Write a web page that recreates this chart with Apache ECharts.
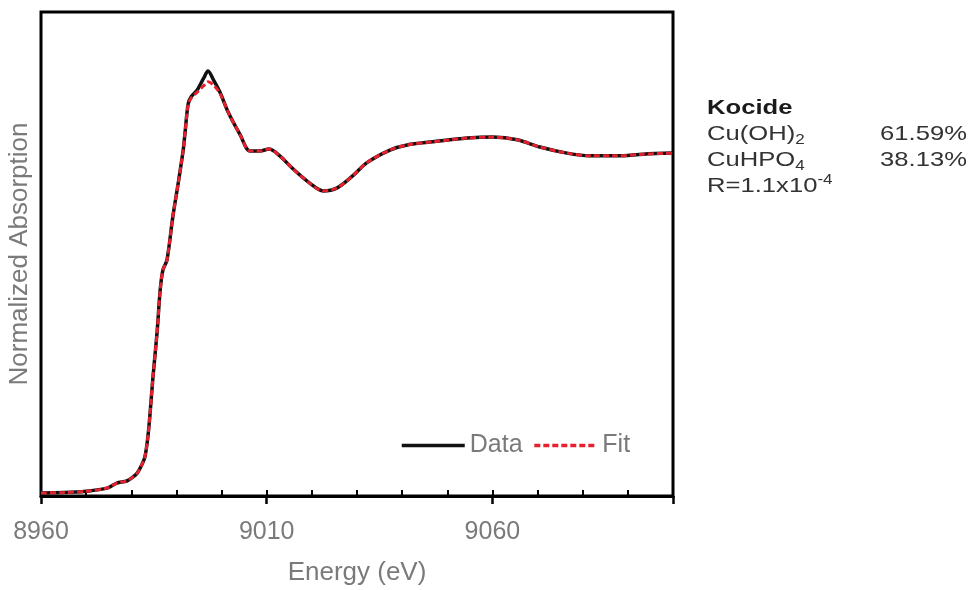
<!DOCTYPE html>
<html>
<head>
<meta charset="utf-8">
<script src="https://cdn.jsdelivr.net/npm/echarts@6/dist/echarts.min.js"></script>
<style>
html,body{margin:0;padding:0;background:#fff;}
#chart{width:970px;height:590px;}
</style>
</head>
<body>
<div id="chart"></div>
<script>
// ---- data ----
const energy = [8960, 8965, 8970, 8974.6, 8976.8, 8979, 8980.4, 8981.3, 8982.2, 8983, 8983.6, 8984.1, 8984.8, 8985.7, 8986.4, 8987, 8987.9, 8989.2, 8990.4, 8991.5, 8991.9, 8992.6, 8993.3, 8994.6, 8996, 8997, 8998.2, 8999.7, 9001.5, 9004.1, 9006.3, 9008.5, 9010.5, 9012.9, 9015.8, 9019.8, 9022.5, 9025.6, 9029.1, 9032.2, 9037.3, 9041.1, 9046.8, 9054.4, 9060.1, 9065.5, 9070.5, 9076.5, 9081.6, 9087.6, 9093.4, 9100];
const dataAbs = [0.009, 0.010, 0.014, 0.023, 0.038, 0.044, 0.056, 0.067, 0.088, 0.114, 0.165, 0.232, 0.349, 0.478, 0.604, 0.663, 0.692, 0.819, 0.918, 1.015, 1.065, 1.150, 1.172, 1.191, 1.225, 1.247, 1.221, 1.183, 1.125, 1.060, 1.012, 1.012, 1.018, 0.998, 0.960, 0.915, 0.895, 0.904, 0.940, 0.978, 1.015, 1.030, 1.039, 1.050, 1.053, 1.045, 1.024, 1.006, 0.998, 0.998, 1.003, 1.006];
const fitAbs  = [0.009, 0.010, 0.014, 0.023, 0.038, 0.044, 0.056, 0.067, 0.088, 0.114, 0.165, 0.232, 0.349, 0.478, 0.604, 0.663, 0.692, 0.819, 0.918, 1.015, 1.065, 1.148, 1.168, 1.185, 1.203, 1.215, 1.206, 1.180, 1.125, 1.060, 1.012, 1.012, 1.018, 0.998, 0.960, 0.915, 0.895, 0.904, 0.940, 0.978, 1.015, 1.030, 1.039, 1.050, 1.053, 1.045, 1.024, 1.006, 0.998, 0.998, 1.003, 1.006];
const xMin = 8960, xMax = 9100, xMajor = 50, xMinor = 10;
const yMin = 0, yMax = 1.42;
const seriesNames = ['Data', 'Fit'];
const xTitle = 'Energy (eV)';
const yTitle = 'Normalized Absorption';
const sampleName = 'Kocide';
const components = ['Cu(OH){sub|2}', 'CuHPO{sub|4}'];
const fractions = ['61.59%', '38.13%'];
const rFactor = 'R=1.1x10{sup|-4}';

const chart = echarts.init(document.getElementById('chart'));
const FONT = '"Liberation Sans", Arial, sans-serif';
const pair = (ys) => energy.map((x, i) => [x, ys[i]]);
const DATA_COLOR = '#111', FIT_COLOR = '#e6202c';

const annoRich = {
  sub: {fontSize: 14, fontFamily: FONT, fill: '#333', verticalAlign: 'bottom', lineHeight: 14},
  sup: {fontSize: 14, fontFamily: FONT, fill: '#333', verticalAlign: 'top', lineHeight: 14}
};
const SX = 1.22;
const annoY = [134, 160];
const graphic = [
  {type: 'text', x: 707, y: 108, scaleX: SX, style: {text: sampleName, font: 'bold 21px ' + FONT, fill: '#1a1a1a', textVerticalAlign: 'middle'}}
];
components.forEach((c, i) => {
  graphic.push({type: 'text', x: 707, y: annoY[i], scaleX: SX, style: {text: c, rich: annoRich, fontSize: 21, fontFamily: FONT, fill: '#333', textVerticalAlign: 'middle', lineHeight: 26}});
  graphic.push({type: 'text', x: 967, y: annoY[i], scaleX: SX, style: {text: fractions[i], fontSize: 21, fontFamily: FONT, fill: '#333', textAlign: 'right', textVerticalAlign: 'middle'}});
});
graphic.push({type: 'text', x: 707, y: 186, scaleX: SX, style: {text: rFactor, rich: annoRich, fontSize: 21, fontFamily: FONT, fill: '#333', textVerticalAlign: 'middle', lineHeight: 26}});

chart.setOption({
  animation: false,
  backgroundColor: '#fff',
  textStyle: {fontFamily: FONT},
  grid: {left: 41, right: 297, top: 12, bottom: 94, outerBoundsMode: 'none', containLabel: false, show: true, borderColor: '#000', borderWidth: 3, backgroundColor: 'transparent'},
  legend: {
    data: [
      {name: seriesNames[0], lineStyle: {color: DATA_COLOR, width: 3.5, type: 'solid'}},
      {name: seriesNames[1], lineStyle: {color: FIT_COLOR, width: 3.5, type: [6, 3]}}
    ],
    left: 400, top: 433, padding: 0, itemWidth: 63, itemHeight: 14, itemGap: 10,
    itemStyle: {opacity: 0},
    textStyle: {fontSize: 25, color: '#7a7a7a', fontFamily: FONT}
  },
  xAxis: [
    {
      type: 'value', min: xMin, max: xMax, interval: xMinor, position: 'bottom',
      axisLine: {show: true, lineStyle: {color: '#000', width: 3}},
      axisTick: {show: true, inside: true, length: 6, lineStyle: {color: '#000', width: 2}},
      splitLine: {show: false},
      axisLabel: {
        show: true, fontSize: 25, color: '#7a7a7a', margin: 24, fontFamily: FONT,
        formatter: (v) => ((v - xMin) % xMajor === 0 ? String(v) : '')
      },
      name: xTitle, nameLocation: 'middle', nameGap: 64,
      nameTextStyle: {fontSize: 26, color: '#7a7a7a', fontFamily: FONT}
    },
    {
      type: 'value', min: xMin, max: xMax, interval: xMajor, position: 'bottom',
      axisLine: {show: false},
      axisTick: {show: true, inside: false, length: 8, lineStyle: {color: '#000', width: 2.5}},
      axisLabel: {show: false},
      splitLine: {show: false}
    }
  ],
  yAxis: {
    type: 'value', min: yMin, max: yMax,
    axisLine: {show: false}, axisTick: {show: false}, axisLabel: {show: false}, splitLine: {show: false},
    name: yTitle, nameLocation: 'middle', nameGap: 8, nameRotate: 90,
    nameTextStyle: {fontSize: 26, color: '#7a7a7a', fontFamily: FONT}
  },
  series: [
    {
      name: seriesNames[0], type: 'line', data: pair(dataAbs), xAxisIndex: 0, symbol: 'none', smooth: 0.3,
      lineStyle: {color: DATA_COLOR, width: 3.5}, itemStyle: {color: DATA_COLOR}, z: 2
    },
    {
      name: seriesNames[1], type: 'line', data: pair(fitAbs), xAxisIndex: 0, symbol: 'none', smooth: 0.3,
      lineStyle: {color: FIT_COLOR, width: 3, type: [6, 3]}, itemStyle: {color: FIT_COLOR}, z: 3
    }
  ],
  graphic: graphic
});
</script>
</body>
</html>
